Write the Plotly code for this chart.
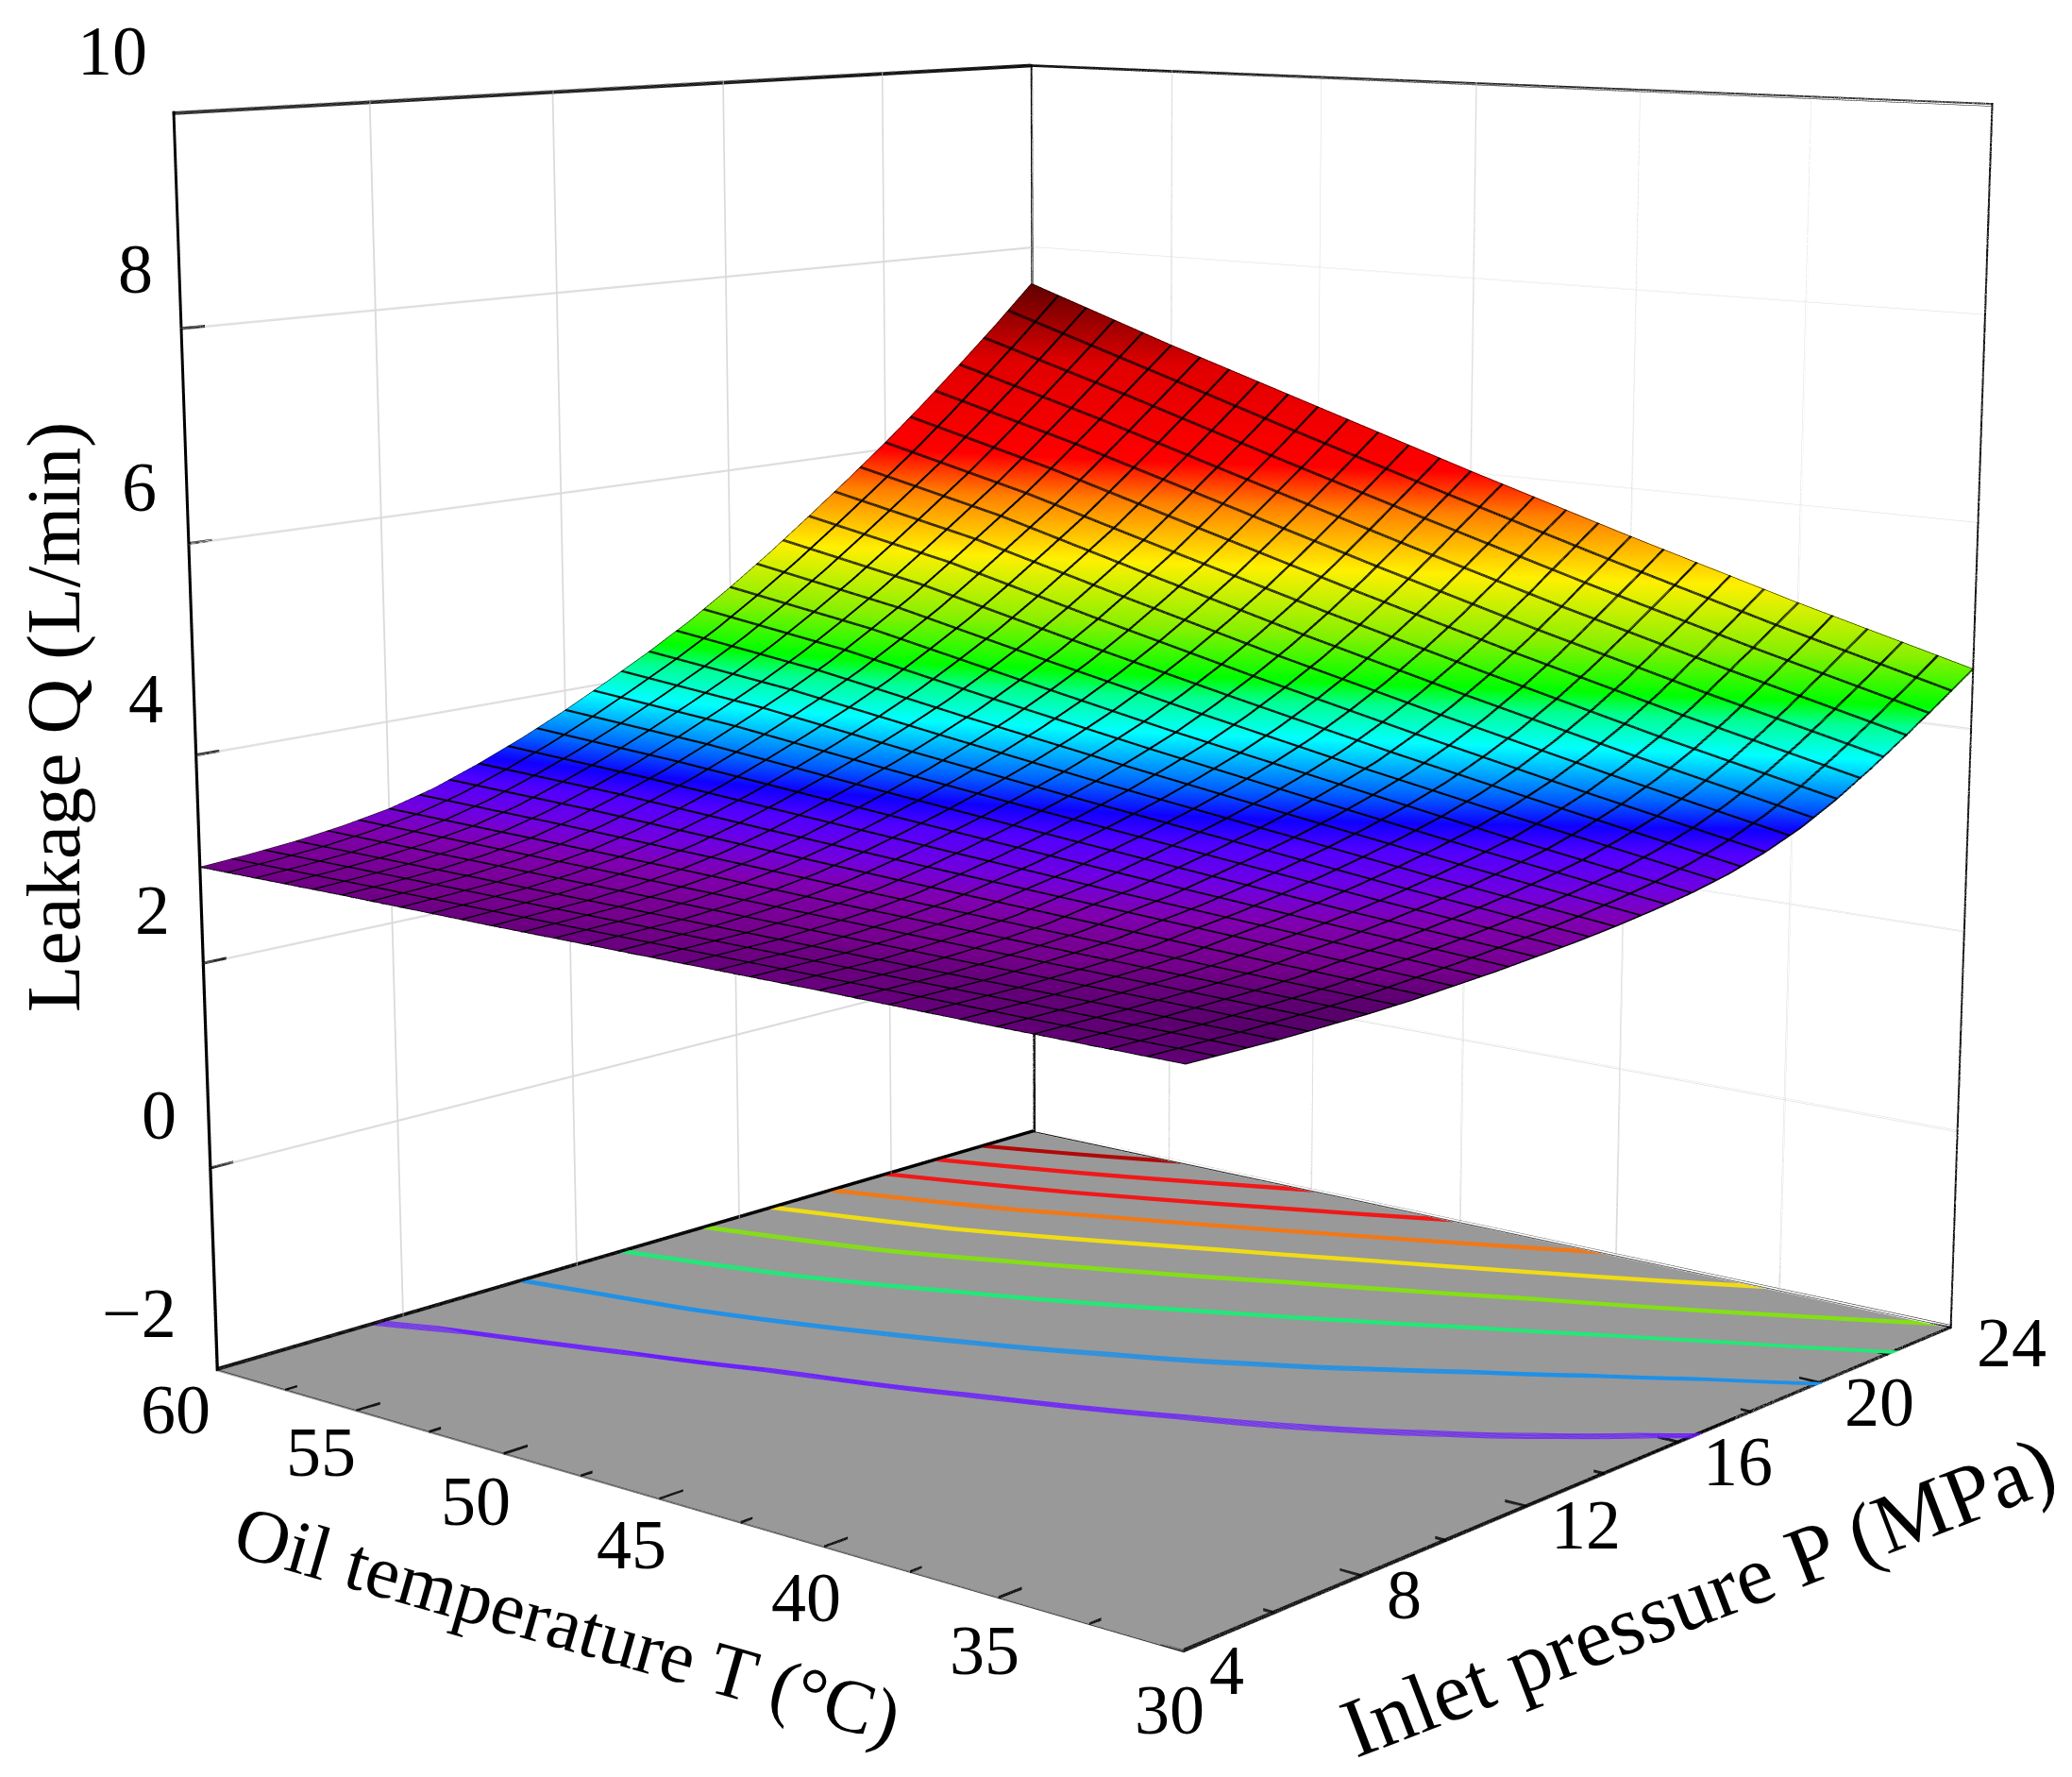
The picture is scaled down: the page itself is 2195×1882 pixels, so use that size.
import plotly.graph_objects as go

# leakage, one list per oil temperature
pressure = [4, 5, 6, 7, 8, 9, 10, 11, 12, 13, 14, 15, 16, 17, 18, 19, 20, 21, 22, 23, 24]
temperature = [30, 35, 40, 45, 50, 55, 60]
q_t30 = [2.92, 2.91, 2.90, 2.90, 2.90, 2.91, 2.93, 2.95, 2.98, 3.01, 3.05,
         3.10, 3.16, 3.24, 3.35, 3.49, 3.67, 3.88, 4.11, 4.35, 4.60]
q_t35 = [2.92, 2.92, 2.92, 2.93, 2.94, 2.96, 3.01, 3.05, 3.10, 3.16, 3.23,
         3.31, 3.40, 3.52, 3.66, 3.83, 4.03, 4.26, 4.52, 4.78, 5.05]
q_t40 = [2.93, 2.93, 2.93, 2.95, 2.98, 3.02, 3.09, 3.15, 3.24, 3.33, 3.43,
         3.54, 3.67, 3.81, 3.99, 4.19, 4.42, 4.67, 4.95, 5.24, 5.53]
q_t45 = [2.93, 2.94, 2.95, 2.98, 3.02, 3.08, 3.17, 3.27, 3.38, 3.50, 3.63,
         3.78, 3.94, 4.13, 4.34, 4.57, 4.83, 5.11, 5.41, 5.72, 6.03]
q_t50 = [2.93, 2.95, 2.97, 3.01, 3.07, 3.15, 3.26, 3.39, 3.53, 3.68, 3.85,
         4.03, 4.24, 4.46, 4.71, 4.98, 5.26, 5.57, 5.89, 6.21, 6.55]
q_t55 = [2.94, 2.96, 2.99, 3.04, 3.11, 3.22, 3.36, 3.51, 3.69, 3.88, 4.08,
         4.30, 4.55, 4.81, 5.10, 5.40, 5.70, 6.03, 6.37, 6.72, 7.07]
q_t60 = [2.94, 2.97, 3.01, 3.07, 3.15, 3.27, 3.43, 3.61, 3.81, 4.03, 4.26,
         4.51, 4.79, 5.09, 5.41, 5.74, 6.08, 6.44, 6.82, 7.21, 7.62]
q_grid = [q_t30, q_t35, q_t40, q_t45, q_t50, q_t55, q_t60]

p_ticks = [4, 8, 12, 16, 20, 24]
p_minor = [6, 10, 14, 18, 22]
t_ticks = [60, 55, 50, 45, 40, 35, 30]
t_minor = [57.5, 52.5, 47.5, 42.5, 37.5, 32.5]
q_ticks = [-2, 0, 2, 4, 6, 8, 10]
q_labels = ['\u22122', '0', '2', '4', '6', '8', '10']

# contour levels on the floor, their colours and how much of Q each drawn line spans
levels = [3.17, 3.67, 4.17, 4.67, 5.17, 5.67, 6.17, 6.67, 7.17]
level_col = ['#6a1cff', '#1e90e8', '#22e878', '#84e014', '#f0dc14',
             '#f07818', '#f01818', '#f01818', '#b00808']
level_span = [0.012, 0.018, 0.024, 0.032, 0.036, 0.04, 0.043, 0.048, 0.048]
# the floor lines in the picture sit a little off the surface above them
floor_lift = [0, 0.04, 0.06, 0.07, 0.08, 0.09, 0.1]
lowest_lift = [-0.03, -0.05, -0.08, -0.08, -0.06, -0.01, 0.06]
level_lift = [lowest_lift] + [floor_lift] * 8

# where the labels sit on the page, in pixels
W, H = 2195, 1882
q_label_xy = [(139, 1383), (160, 1173), (153, 956), (146, 732), (139, 508), (135, 277), (111, 46)]
t_label_xy = [(178, 1485), (332, 1530), (496, 1582), (661, 1628), (846, 1684), (1035, 1740), (1231, 1803)]
p_label_xy = [(1291, 1761), (1479, 1681), (1672, 1607), (1833, 1540), (1983, 1477), (2123, 1414)]

band_z = [2.89, 2.95, 3.05, 3.17, 3.33, 3.47, 3.62, 3.92, 4.17, 4.32, 4.67, 5.17, 5.67, 6.02, 6.87, 7.62]
band_col = ['#560068', '#75008c', '#8000b0', '#7000e0', '#5000ff', '#1000ff', '#0060ff', '#00ffff',
            '#00ff90', '#00ff00', '#88f000', '#fff000', '#ff8000', '#ff0000', '#e00000', '#600000']

zmin, zmax = band_z[0], band_z[-1]
colorscale = [[(z - zmin) / (zmax - zmin), c] for z, c in zip(band_z, band_col)]

fig = go.Figure()

fig.add_trace(go.Surface(
    x=pressure,
    y=temperature,
    z=q_grid,
    cmin=zmin,
    cmax=zmax,
    colorscale=colorscale,
    showscale=False,
    hoverinfo='skip',
    lighting=dict(ambient=1, diffuse=0, specular=0, roughness=1, fresnel=0),
))

# gl lines are always one pixel wide here, so wide lines are several lines side by side
for dp, dt in [(0, 0), (0.014, 0.018), (-0.014, -0.018), (0.028, 0.036)]:
    fig.add_trace(go.Surface(
        x=pressure,
        y=temperature,
        z=q_grid,
        hidesurface=True,
        showscale=False,
        hoverinfo='skip',
        contours=dict(
            x=dict(show=True, start=4 + dp, end=24.01 + dp, size=20 / 30, color='black', highlight=False),
            y=dict(show=True, start=30 + dt, end=60.01 + dt, size=1, color='black', highlight=False),
            z=dict(highlight=False),
        ),
    ))

# floor contours come from a copy far under the axis range, only its projection stays in view
sink = 20
for level, col, span, lifts in zip(levels, level_col, level_span, level_lift):
    q_under = [[v + lift - sink for v in row] for row, lift in zip(q_grid, lifts)]
    fig.add_trace(go.Surface(
        x=pressure,
        y=temperature,
        z=q_under,
        hidesurface=True,
        showscale=False,
        hoverinfo='skip',
        contours=dict(
            x=dict(highlight=False),
            y=dict(highlight=False),
            z=dict(show=True, start=level - sink - span, end=level - sink + span * 1.01, size=span / 4,
                   color=col, project=dict(z=True), highlight=False),
        ),
    ))


def add_lines(edges, color, copies):
    xs, ys, zs = [], [], []
    for a, b, step in edges:
        for k in range(copies):
            xs += [a[0] + k * step[0], b[0] + k * step[0], None]
            ys += [a[1] + k * step[1], b[1] + k * step[1], None]
            zs += [a[2] + k * step[2], b[2] + k * step[2], None]
    fig.add_trace(go.Scatter3d(x=xs, y=ys, z=zs, mode='lines', hoverinfo='skip', showlegend=False,
                               line=dict(color=color, width=1)))


p0, p1 = p_ticks[0], p_ticks[-1]
t0, t1 = t_ticks[-1], t_ticks[0]
q0, q1 = q_ticks[0], q_ticks[-1]

# a bit over half a pixel along each axis
px_p, px_t, px_q = 0.009, 0.012, 0.0055
up = (0, 0, px_q)
down = (0, 0, -px_q)

# wall grid
grid = []
for p in p_ticks[1:-1]:
    grid.append(((p, t1, q0), (p, t1, q1), (px_p, 0, 0)))
for t in t_ticks[1:-1]:
    grid.append(((p1, t, q0), (p1, t, q1), (0, px_t, 0)))
for q in q_ticks[1:-1]:
    grid.append(((p0, t1, q), (p1, t1, q), up))
    grid.append(((p1, t1, q), (p1, t0, q), up))
add_lines(grid, '#dadada', 4)

# box edges, the front corner stays open
frame = [
    ((p0, t1, q0), (p0, t1, q1), (px_p, 0, 0)),
    ((p1, t1, q0), (p1, t1, q1), (0, -px_t, 0)),
    ((p1, t0, q0), (p1, t0, q1), (-px_p, 0, 0)),
    ((p0, t1, q1), (p1, t1, q1), down),
    ((p1, t1, q1), (p1, t0, q1), down),
    ((p0, t1, q0), (p1, t1, q0), up),
    ((p1, t1, q0), (p1, t0, q0), up),
    ((p0, t0, q0), (p1, t0, q0), up),
    ((p0, t0, q0), (p0, t1, q0), up),
]
add_lines(frame, 'black', 7)

ticks = []
for t in t_ticks:
    ticks.append(((p0, t, q0), (p0 + 0.5, t, q0), up))
for t in t_minor:
    ticks.append(((p0, t, q0), (p0 + 0.25, t, q0), up))
for p in p_ticks:
    ticks.append(((p, t0, q0), (p, t0 + 0.6, q0), up))
for p in p_minor:
    ticks.append(((p, t0, q0), (p, t0 + 0.3, q0), up))
for q in q_ticks[1:-1]:
    ticks.append(((p0, t1, q), (p0 + 0.5, t1, q), up))
add_lines(ticks, 'black', 5)

serif = 'Liberation Serif'
notes = []
for txt, (x, y) in zip(q_labels, q_label_xy):
    notes.append(dict(text=txt, x=x / W, y=1 - y / H))
for txt, (x, y) in zip(t_ticks, t_label_xy):
    notes.append(dict(text=str(txt), x=x / W, y=1 - y / H))
for txt, (x, y) in zip(p_ticks, p_label_xy):
    notes.append(dict(text=str(txt), x=x / W, y=1 - y / H))
for n in notes:
    n['font'] = dict(family=serif, size=74, color='black')
notes.append(dict(text='Leakage Q (L/min)', x=49 / W, y=1 - 752 / H, textangle=-90,
                  font=dict(family=serif, size=81, color='black')))
notes.append(dict(text='Oil temperature T (\u00b0C)', x=593 / W, y=1 - 1712 / H, textangle=16,
                  font=dict(family=serif, size=80, color='black')))
notes.append(dict(text='Inlet pressure P (MPa)', x=1791 / W, y=1 - 1683 / H, textangle=-21,
                  font=dict(family=serif, size=89, color='black')))
for n in notes:
    n.update(xref='paper', yref='paper', xanchor='center', yanchor='middle', showarrow=False)


def bare_axis(lo, hi):
    return dict(range=[lo, hi], title=dict(text=''), showgrid=False, showline=False, zeroline=False,
                showticklabels=False, ticks='', showspikes=False, showbackground=False)


zaxis = bare_axis(q0, q1)
zaxis.update(showbackground=True, backgroundcolor='#999999')

fig.update_layout(
    width=W,
    height=H,
    margin=dict(l=0, r=0, t=0, b=0),
    paper_bgcolor='white',
    showlegend=False,
    annotations=notes,
    scene=dict(
        domain=dict(x=[0.0506, 1], y=[0.051, 1]),
        aspectmode='manual',
        aspectratio=dict(x=1, y=1, z=1),
        xaxis=bare_axis(p0, p1),
        yaxis=bare_axis(t0, t1),
        zaxis=zaxis,
        camera=dict(
            eye=dict(x=-3.073, y=-2.597, z=0.72),
            center=dict(x=0, y=0, z=-0.087),
            up=dict(x=0, y=0, z=1),
        ),
    ),
)

# plotly has no option for the field of view, the reference is shot with a much longer lens
narrow_lens = """
var gd = document.getElementById('{plot_id}');
function narrow() {
    var s = gd._fullLayout && gd._fullLayout.scene && gd._fullLayout.scene._scene;
    if (s && s.glplot) { s.glplot.fovy = 0.3243; s.glplot.redraw(); }
}
[0, 50, 200, 500, 1000, 2000].forEach(function (ms) { setTimeout(narrow, ms); });
"""

fig.write_html("out.html", post_script=narrow_lens)
